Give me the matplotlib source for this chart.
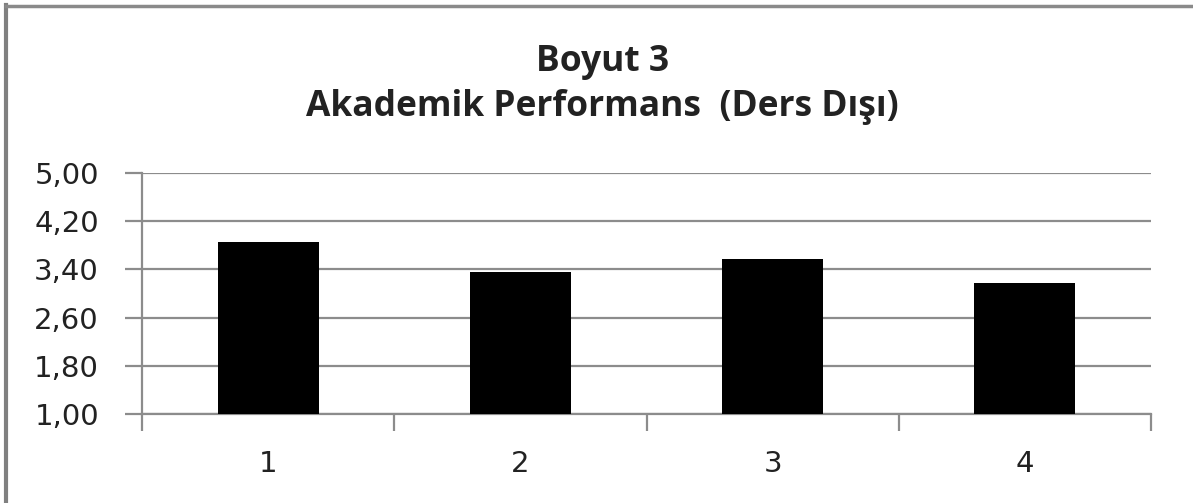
import numpy as np
import matplotlib.pyplot as plt
from matplotlib.lines import Line2D

categories = ["1", "2", "3", "4"]
values = [3.86, 3.35, 3.57, 3.17]
yticks = [1.00, 1.80, 2.60, 3.40, 4.20, 5.00]

plt.rcParams['font.family'] = ['DejaVu Sans']

fig = plt.figure(figsize=(11.93, 5.03), dpi=100)
ax = fig.add_axes([142/1193, 89/503, 1009/1193, 241/503])

x = np.arange(len(categories))
ax.bar(x, values, width=0.4, bottom=0, color='black', zorder=3)

ax.set_xlim(-0.5, len(categories) - 0.5)
ax.set_ylim(1.0, 5.0)
ax.set_yticks(yticks)
ax.set_yticklabels([("%.2f" % v).replace(".", ",") for v in yticks], fontsize=21, color='#222222')
ax.set_xticks(x)
ax.set_xticklabels(categories, fontsize=21, color='#222222')
ax.set_xticks(np.arange(-0.5, len(categories)), minor=True)

ax.yaxis.grid(True, color='#8c8c8c', linewidth=1.6, zorder=0)
for s in ['top', 'right']:
    ax.spines[s].set_visible(False)
for s in ['left', 'bottom']:
    ax.spines[s].set_color('#8c8c8c')
    ax.spines[s].set_linewidth(1.6)

ax.tick_params(axis='y', length=12, width=1.6, color='#8c8c8c', pad=19)
ax.tick_params(axis='x', which='major', length=0, pad=26)
ax.tick_params(axis='x', which='minor', length=12, width=1.6, color='#8c8c8c')

title_font = ['Open Sans', 'DejaVu Sans']
fig.text(0.505, 0.876, "Boyut 3", ha='center', va='center', fontsize=25.5,
         fontweight='bold', family=title_font, color='#222222')
fig.text(0.505, 0.787, "Akademik Performans  (Ders Dışı)", ha='center', va='center',
         fontsize=25.5, fontweight='bold', family=title_font, color='#222222')

# outer frame (left and top edges)
fig.add_artist(Line2D([6/1193, 6/1193], [0, 1 - 5/503], transform=fig.transFigure, color='#808080', linewidth=3))
fig.add_artist(Line2D([6/1193, 1], [1 - 6/503, 1 - 6/503], transform=fig.transFigure, color='#8a8a8a', linewidth=2.5))

fig.savefig("out.png", dpi=100)
